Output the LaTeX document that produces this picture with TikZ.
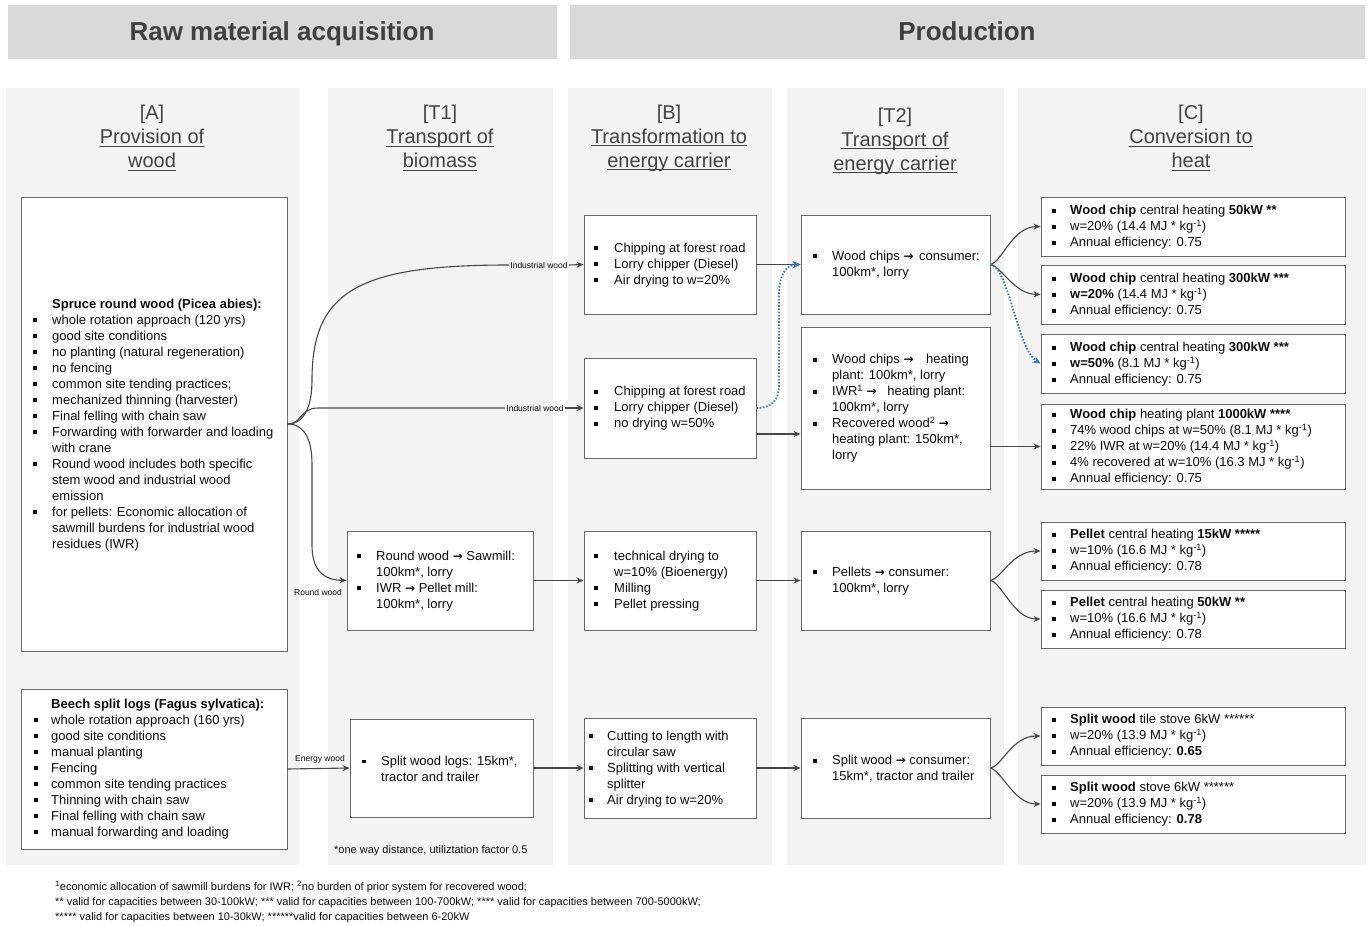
\documentclass[tikz,border=0pt]{standalone}
\usepackage{fontspec}
\setmainfont{Liberation Sans}
\newfontfamily\arrowfont{DejaVu Sans}
\usetikzlibrary{arrows.meta}

\definecolor{hdrbg}{HTML}{D9D9D9}
\definecolor{colbg}{HTML}{F3F3F3}
\definecolor{hdrtxt}{HTML}{404040}
\definecolor{ttltxt}{HTML}{434343}
\definecolor{boxline}{HTML}{6A6A6A}
\definecolor{flowc}{HTML}{474747}
\definecolor{bluec}{HTML}{3B78B6}
\definecolor{bodytxt}{HTML}{0D0D0D}

% bullet lists: square bullet in a fixed-width slot, continuation lines indented
\newlength{\bind}
\newcommand{\bu}{\makebox[\bind][l]{\rule[2.3pt]{3.8pt}{3.8pt}}}
\newcommand{\ii}{\hspace*{\bind}}
\newcommand{\kg}{kg\textsuperscript{-1}}
\newcommand{\ra}{{\arrowfont\bfseries\fontsize{12}{16}\selectfont →}}
\newcommand{\bodyfont}{\fontsize{13}{16}\selectfont}
% underline at a fixed distance below the baseline
\newcommand{\uln}[1]{\setbox0\hbox{#1}\rlap{\rule[-3pt]{\wd0}{1pt}}\box0}

\tikzset{
  hdr/.style={fill=hdrbg},
  col/.style={fill=colbg},
  hdrtext/.style={font=\fontsize{26}{30}\selectfont\bfseries, text=hdrtxt, inner sep=0pt, anchor=base},
  coltitle/.style={font=\fontsize{20}{24}\selectfont, text=ttltxt, align=center, inner sep=0pt},
  box/.style={draw=boxline, line width=0.9pt, fill=white, inner sep=0pt},
  tx/.style={font=\bodyfont\setlength{\bind}{#1}, text=bodytxt, align=left, inner sep=0pt, anchor=west},
  tx/.default=18pt,
  small/.style={font=\fontsize{8.5}{10}\selectfont, text=bodytxt, inner xsep=1pt, inner ysep=0pt},
  note/.style={font=\fontsize{11}{15}\selectfont, text=bodytxt, align=left, inner sep=0pt, anchor=west},
  flow/.style={draw=flowc, line width=1.1pt, -{Stealth[length=7pt,width=6pt]}},
  flowline/.style={draw=flowc, line width=1.1pt},
  dotflow/.style={draw=bluec, line width=1.8pt, dash pattern=on 1.6pt off 1.6pt, -{Stealth[length=8pt,width=7pt]}},
}

\begin{document}
\begin{tikzpicture}[x=1pt,y=-1pt]
\useasboundingbox (0,0) rectangle (1368,926);
\fill[white] (0,0) rectangle (1368,926);

% phase headers
\fill[hdr] (8,5) rectangle (557,59);
\fill[hdr] (570,5) rectangle (1365,59);
\node[hdrtext] (hraw) at (282,40) {Raw material acquisition};
\node[hdrtext] (hprod) at (967,40) {Production};

% column backgrounds
\fill[col] (6,88) rectangle (299,865);
\fill[col] (328,88) rectangle (553,865);
\fill[col] (568,88) rectangle (772,865);
\fill[col] (787,88) rectangle (1004,865);
\fill[col] (1018,88) rectangle (1366,865);

% column titles
\node[coltitle] (tA) at (152,138) {[A]\\\uln{Provision of}\\\uln{wood}};
\node[coltitle] (tT1) at (440,138) {[T1]\\\uln{Transport of}\\\uln{biomass}};
\node[coltitle] (tB) at (669,138) {[B]\\\uln{Transformation to}\\\uln{energy carrier}};
\node[coltitle] (tT2) at (895,141) {[T2]\\\uln{Transport of}\\\uln{energy carrier}};
\node[coltitle] (tC) at (1191,138) {[C]\\\uln{Conversion to}\\\uln{heat}};

% ---------- boxes ----------
\node[box, minimum width=266pt, minimum height=454pt] (spruce) at (154,424) {};
\node[box, minimum width=266pt, minimum height=160pt] (beech) at (154,769) {};
\node[box, minimum width=186pt, minimum height=99pt] (t1a) at (440,580.5) {};
\node[box, minimum width=183pt, minimum height=98pt] (t1b) at (441.5,768) {};
\node[box, minimum width=172pt, minimum height=99pt] (b1) at (670,264.5) {};
\node[box, minimum width=172pt, minimum height=100pt] (b2) at (670,408) {};
\node[box, minimum width=172pt, minimum height=99pt] (b3) at (670,580.5) {};
\node[box, minimum width=172pt, minimum height=100pt] (b4) at (670,768) {};
\node[box, minimum width=189pt, minimum height=99pt] (t21) at (895.5,264.5) {};
\node[box, minimum width=189pt, minimum height=162pt] (t22) at (895.5,408) {};
\node[box, minimum width=189pt, minimum height=99pt] (t23) at (895.5,580.5) {};
\node[box, minimum width=189pt, minimum height=100pt] (t24) at (895.5,768) {};
\node[box, minimum width=304pt, minimum height=59pt] (c1) at (1193,226.5) {};
\node[box, minimum width=304pt, minimum height=59pt] (c2) at (1193,294.5) {};
\node[box, minimum width=304pt, minimum height=59pt] (c3) at (1193,363.5) {};
\node[box, minimum width=304pt, minimum height=85pt] (c4) at (1193,446.5) {};
\node[box, minimum width=304pt, minimum height=58pt] (c5) at (1193,551) {};
\node[box, minimum width=304pt, minimum height=58pt] (c6) at (1193,619) {};
\node[box, minimum width=304pt, minimum height=58pt] (c7) at (1193,736) {};
\node[box, minimum width=304pt, minimum height=58pt] (c8) at (1193,804) {};

% ---------- box texts ----------
\node[tx=19pt] (xspruce) at (33,425) {%
\ii\textbf{Spruce round wood (Picea abies):}\\
\bu whole rotation approach (120 yrs)\\
\bu good site conditions\\
\bu no planting (natural regeneration)\\
\bu no fencing\\
\bu common site tending practices;\\
\bu mechanized thinning (harvester)\\
\bu Final felling with chain saw\\
\bu Forwarding with forwarder and loading\\
\ii with crane\\
\bu Round wood includes both specific\\
\ii stem wood and industrial wood\\
\ii emission\\
\bu for pellets: Economic allocation of\\
\ii sawmill burdens for industrial wood\\
\ii residues (IWR)};

\node[tx=17pt] (xbeech) at (34,769) {%
\ii\textbf{Beech split logs (Fagus sylvatica):}\\
\bu whole rotation approach (160 yrs)\\
\bu good site conditions\\
\bu manual planting\\
\bu Fencing\\
\bu common site tending practices\\
\bu Thinning with chain saw\\
\bu Final felling with chain saw\\
\bu manual forwarding and loading};

\node[tx=19pt] (xt1a) at (357,581) {%
\bu Round wood \ra{} Sawmill:\\
\ii 100km*, lorry\\
\bu IWR \ra{} Pellet mill:\\
\ii 100km*, lorry};

\node[tx=19pt] (xt1b) at (362,769) {%
\bu Split wood logs: 15km*,\\
\ii tractor and trailer};

\node[tx=20pt] (xb1) at (594,265) {%
\bu Chipping at forest road\\
\bu Lorry chipper (Diesel)\\
\bu Air drying to w=20\%};

\node[tx=20pt] (xb2) at (594,408.5) {%
\bu Chipping at forest road\\
\bu Lorry chipper (Diesel)\\
\bu no drying w=50\%};

\node[tx=20pt] (xb3) at (594,581) {%
\bu technical drying to\\
\ii w=10\% (Bioenergy)\\
\bu Milling\\
\bu Pellet pressing};

\node[tx=18pt] (xb4) at (589,769) {%
\bu Cutting to length with\\
\ii circular saw\\
\bu Splitting with vertical\\
\ii splitter\\
\bu Air drying to w=20\%};

\node[tx=19pt] (xt21) at (813,265) {%
\bu Wood chips \ra{} \hspace{2pt}consumer:\\
\ii 100km*, lorry};

\node[tx=19pt] (xt22) at (813,408.5) {%
\bu Wood chips \ra{} \hspace{9pt}heating\\
\ii plant: 100km*, lorry\\
\bu IWR\textsuperscript{1} \ra{} \hspace{7pt}heating plant:\\
\ii 100km*, lorry\\
\bu Recovered wood\textsuperscript{2} \ra\\
\ii heating plant: 150km*,\\
\ii lorry};

\node[tx=19pt] (xt23) at (813,581) {%
\bu Pellets \ra{} consumer:\\
\ii 100km*, lorry};

\node[tx=19pt] (xt24) at (813,769) {%
\bu Split wood \ra{} consumer:\\
\ii 15km*, tractor and trailer};

\node[tx] (xc1) at (1052,227.5) {%
\bu \textbf{Wood chip} central heating \textbf{50kW **}\\
\bu w=20\% (14.4 MJ * \kg)\\
\bu Annual efficiency: 0.75};

\node[tx] (xc2) at (1052,295.5) {%
\bu \textbf{Wood chip} central heating \textbf{300kW ***}\\
\bu \textbf{w=20\%} (14.4 MJ * \kg)\\
\bu Annual efficiency: 0.75};

\node[tx] (xc3) at (1052,364.5) {%
\bu \textbf{Wood chip} central heating \textbf{300kW ***}\\
\bu \textbf{w=50\%} (8.1 MJ * \kg)\\
\bu Annual efficiency: 0.75};

\node[tx] (xc4) at (1052,447.5) {%
\bu \textbf{Wood chip} heating plant \textbf{1000kW ****}\\
\bu 74\% wood chips at w=50\% (8.1 MJ * \kg)\\
\bu 22\% IWR at w=20\% (14.4 MJ * \kg)\\
\bu 4\% recovered at w=10\% (16.3 MJ * \kg)\\
\bu Annual efficiency: 0.75};

\node[tx] (xc5) at (1052,551.5) {%
\bu \textbf{Pellet} central heating \textbf{15kW *****}\\
\bu w=10\% (16.6 MJ * \kg)\\
\bu Annual efficiency: 0.78};

\node[tx] (xc6) at (1052,619.5) {%
\bu \textbf{Pellet} central heating \textbf{50kW **}\\
\bu w=10\% (16.6 MJ * \kg)\\
\bu Annual efficiency: 0.78};

\node[tx] (xc7) at (1052,736.5) {%
\bu \textbf{Split wood} tile stove 6kW ******\\
\bu w=20\% (13.9 MJ * \kg)\\
\bu Annual efficiency: \textbf{0.65}};

\node[tx] (xc8) at (1052,804.5) {%
\bu \textbf{Split wood} stove 6kW ******\\
\bu w=20\% (13.9 MJ * \kg)\\
\bu Annual efficiency: \textbf{0.78}};

% ---------- flow labels ----------
\node[small] (lind1) at (539,265) {Industrial wood};
\node[small] (lind2) at (535,408) {Industrial wood};
\node[small] (lround) at (318,592) {Round wood};
\node[small] (lenergy) at (320,759) {Energy wood};

% ---------- connectors ----------
\draw[flowline] (spruce.east) .. controls (305,424) and (312,405) .. (312,380)
  .. controls (312,290) and (360,265) .. (lind1.west);
\draw[flow] (lind1.east) -- (b1.west);
\draw[flowline] (spruce.east) .. controls (302,424) and (300,408) .. (318,408) -- (lind2.west);
\draw[flow] (lind2.east) -- (b2.west);
\draw[flow] (spruce.east) .. controls (305,424) and (312,440) .. (312,465) -- (312,545)
  .. controls (312,572) and (325,580) .. (t1a.west);
\draw[flow] (beech.east) -- (t1b.west);

\draw[flow] (t1a.east) -- (b3.west);
\draw[flow] (t1b.east) -- (b4.west);

\draw[flow] (b1.east) -- (t21.west);
\draw[flow] ([yshift=-26pt]b2.east) -- ([yshift=-26pt]t22.west);
\draw[dotflow] (b2.east) .. controls (772,408) and (779,400) .. (779,385) -- (779,295)
  .. controls (779,275) and (786,265) .. (t21.west);
\draw[flow] (b3.east) -- (t23.west);
\draw[flow] (b4.east) -- (t24.west);

\draw[flow] (t21.east) .. controls (1002,262) and (1012,227) .. (c1.west);
\draw[flow] (t21.east) .. controls (1002,267) and (1014,294) .. (c2.west);
\draw[dotflow] (t21.east) .. controls (1008,266) and (1018,350) .. (c3.west);
\draw[flow] (t22.east |- c4.west) -- (c4.west);
\draw[flow] (t23.east) .. controls (1002,578) and (1012,551) .. (c5.west);
\draw[flow] (t23.east) .. controls (1002,583) and (1014,619) .. (c6.west);
\draw[flow] (t24.east) .. controls (1002,766) and (1012,736) .. (c7.west);
\draw[flow] (t24.east) .. controls (1002,771) and (1014,804) .. (c8.west);

% ---------- notes ----------
\node[note] (ndist) at (334,851) {*one way distance, utiliztation factor 0.5};
\node[note] (nfoot) at (55,901.5) {%
\textsuperscript{1}economic allocation of sawmill burdens for IWR; \textsuperscript{2}no burden of prior system for recovered wood;\\
** valid for capacities between 30-100kW; *** valid for capacities between 100-700kW; **** valid for capacities between 700-5000kW;\\
***** valid for capacities between 10-30kW; ******valid for capacities between 6-20kW};
\end{tikzpicture}
\end{document}
